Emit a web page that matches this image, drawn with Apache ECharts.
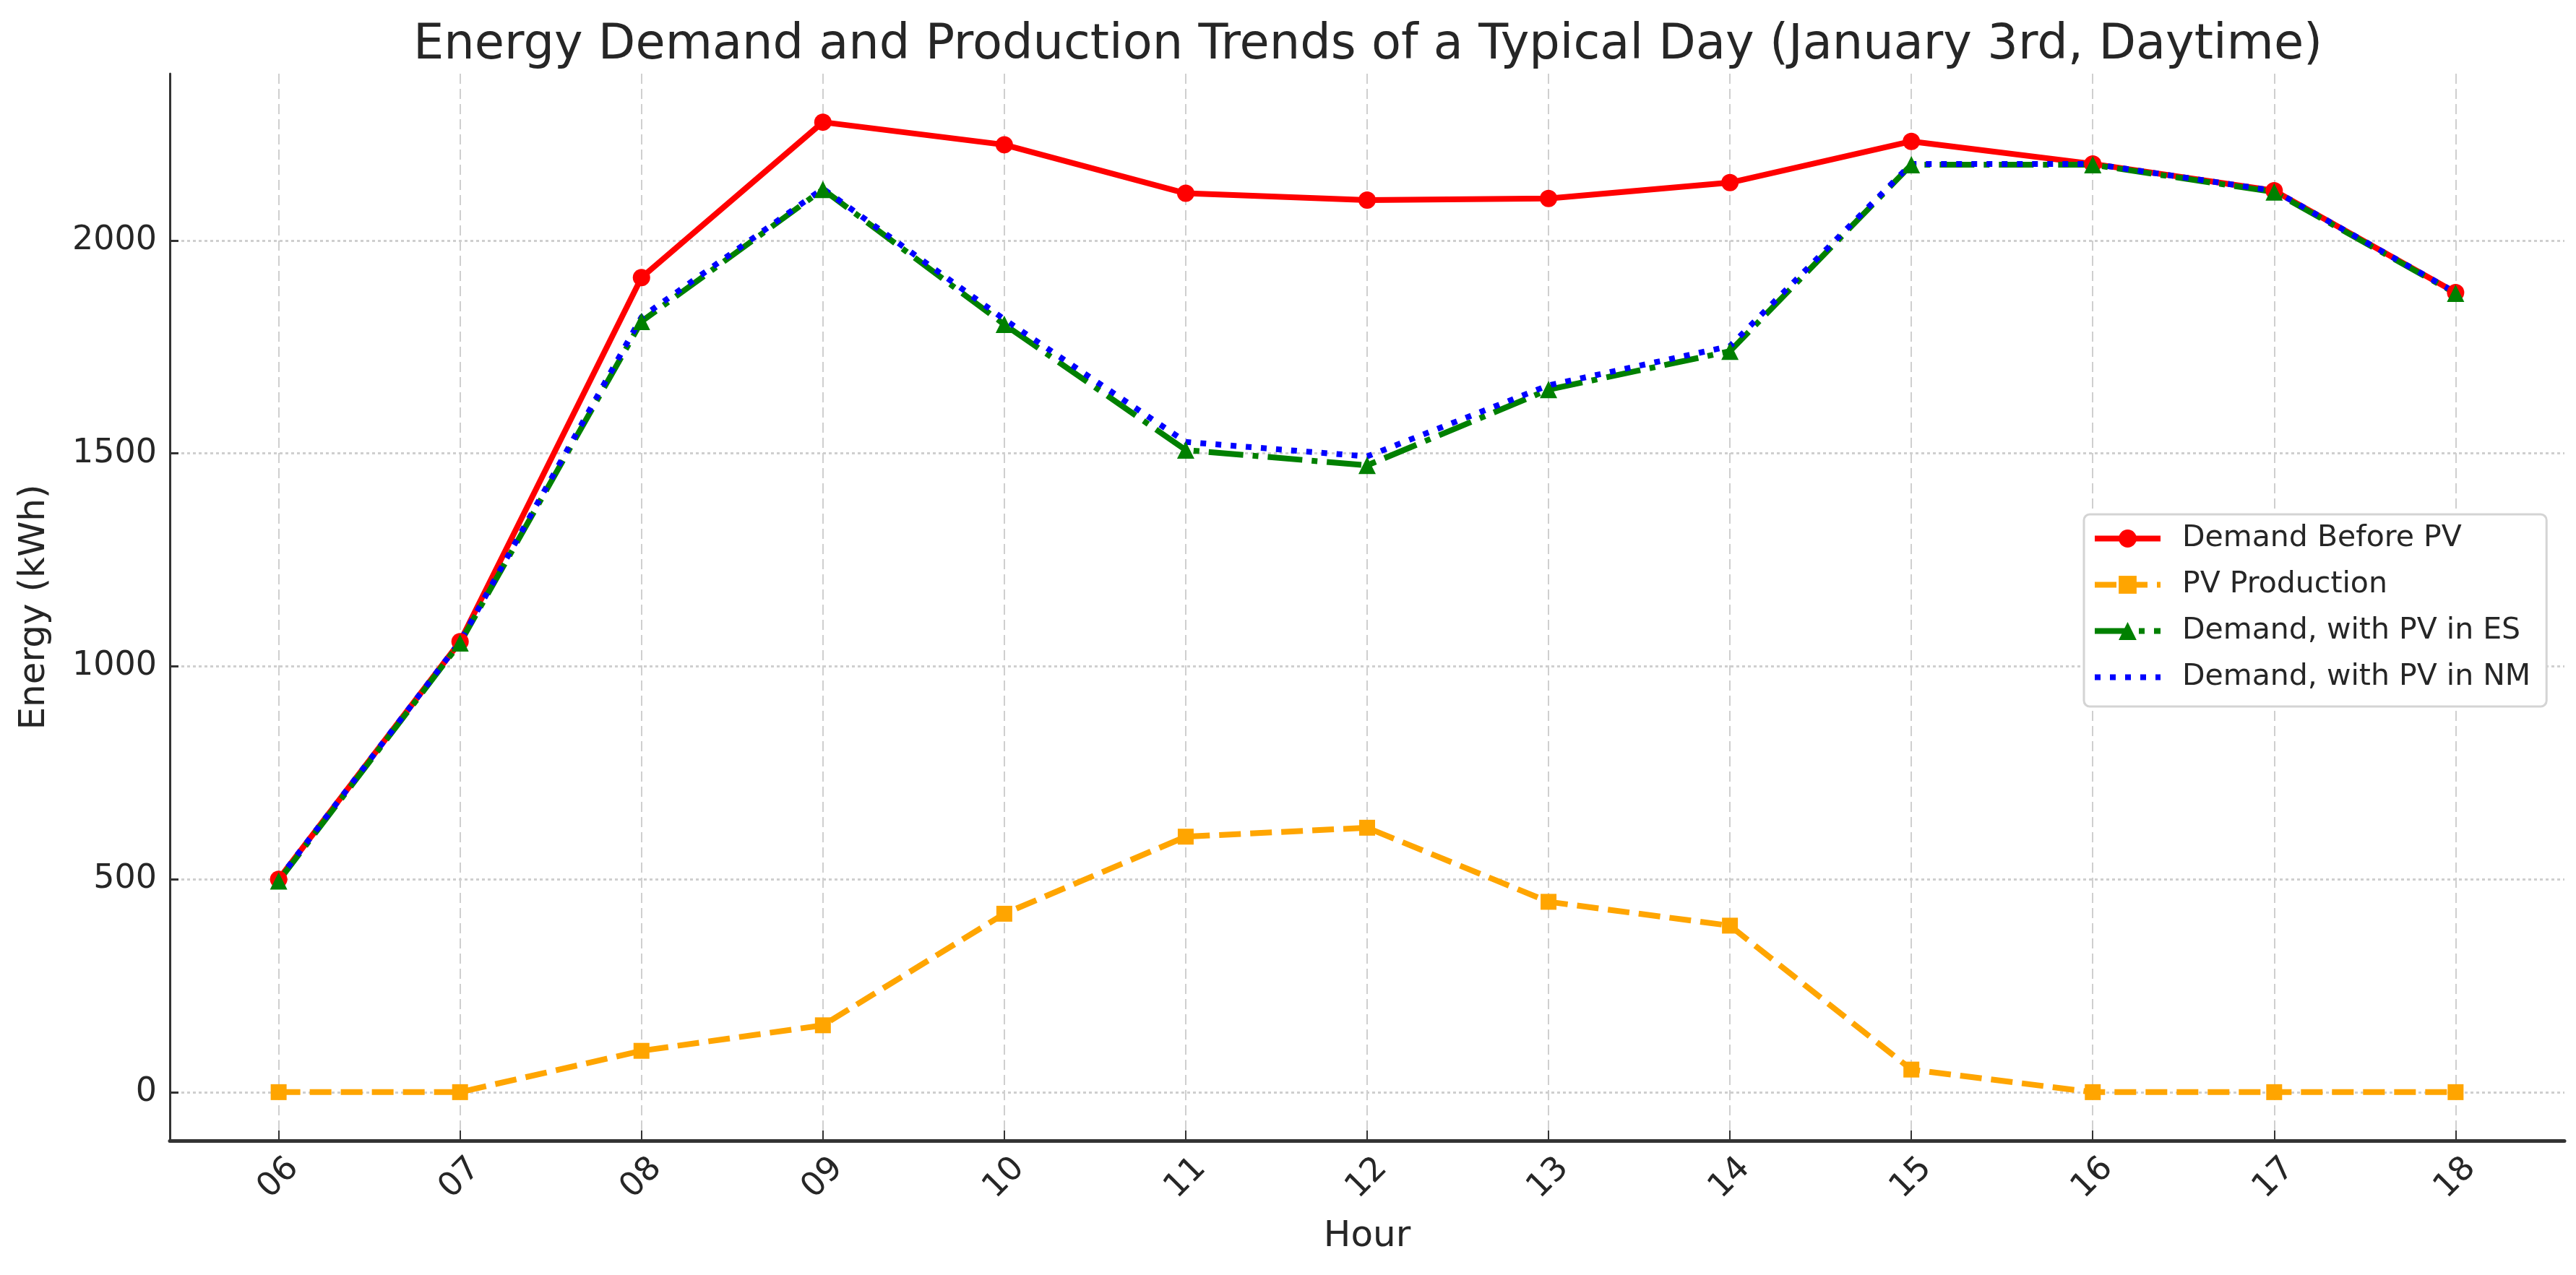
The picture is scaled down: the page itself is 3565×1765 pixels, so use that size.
<!DOCTYPE html>
<html>
<head>
<meta charset="utf-8">
<script src="https://cdn.jsdelivr.net/npm/echarts@6/dist/echarts.min.js"></script>
<style>
  html, body { margin: 0; padding: 0; background: #ffffff; }
  #chart { width: 3565px; height: 1765px; }
</style>
</head>
<body>
<div id="chart"></div>
<script>
// ---- Data ----
var hours = ['06', '07', '08', '09', '10', '11', '12', '13', '14', '15', '16', '17', '18'];
var demandBeforePV = [500, 1058, 1913, 2278, 2225, 2111, 2095, 2099, 2136, 2233, 2180, 2117, 1878];
var pvProduction   = [0, 0, 97, 157, 419, 600, 621, 447, 391, 53, 0, 0, 0];
var demandES       = [496, 1055, 1810, 2120, 1803, 1508, 1472, 1650, 1740, 2178, 2178, 2114, 1876];
var demandNM       = [500, 1058, 1820, 2122, 1815, 1527, 1493, 1660, 1752, 2180, 2180, 2117, 1878];
var yTicks = [0, 500, 1000, 1500, 2000];

var FONT = 'DejaVu Sans';
var TXT = '#262626';

function pairs(arr) { return arr.map(function (v, i) { return [i, v]; }); }
var xTickVals = hours.map(function (h, i) { return i; });

var chart = echarts.init(document.getElementById('chart'), null, { renderer: 'canvas' });

var option = {
  animation: false,
  backgroundColor: '#ffffff',
  title: {
    text: 'Energy Demand and Production Trends of a Typical Day (January 3rd, Daytime)',
    left: 572,
    top: 30,
    padding: 0,
    textStyle: { fontFamily: FONT, fontSize: 67, fontWeight: 'normal', color: TXT }
  },
  grid: { left: 235, right: 16, top: 102, bottom: 186, containLabel: false },
  legend: {
    orient: 'vertical',
    left: 2884,
    top: 712,
    selectedMode: false,
    backgroundColor: '#ffffff',
    borderColor: '#d4d4d4',
    borderWidth: 3,
    borderRadius: 8,
    padding: [13, 22, 20, 11],
    itemWidth: 91,
    itemHeight: 31,
    itemGap: 23,
    lineStyle: { width: 8 },
    textStyle: { fontFamily: FONT, fontSize: 41, color: TXT, lineHeight: 40, padding: [0, 0, 0, 25] },
    data: [
      { name: 'Demand Before PV' },
      { name: 'PV Production' },
      { name: 'Demand, with PV in ES' },
      { name: 'Demand, with PV in NM', itemStyle: { opacity: 0 } }
    ]
  },
  xAxis: {
    type: 'value',
    min: -0.6,
    max: 12.6,
    name: 'Hour',
    nameLocation: 'middle',
    nameGap: 108,
    nameTextStyle: { fontFamily: FONT, fontSize: 50, color: TXT },
    axisLine: { show: true, onZero: false, lineStyle: { color: '#333333', width: 5 } },
    axisTick: { show: true, inside: true, length: 14, customValues: xTickVals, lineStyle: { color: '#333333', width: 2 } },
    axisLabel: {
      show: true,
      customValues: xTickVals,
      rotate: 45,
      align: 'center',
      verticalAlign: 'middle',
      margin: 52,
      fontFamily: FONT,
      fontSize: 46,
      color: TXT,
      formatter: function (v) { return hours[Math.round(v)]; }
    },
    splitLine: { show: true, lineStyle: { color: '#cfcfcf', width: 2, type: [14, 7] } }
  },
  yAxis: {
    type: 'value',
    min: -113.9,
    max: 2391.9,
    name: 'Energy (kWh)',
    nameLocation: 'middle',
    nameGap: 162,
    nameRotate: 90,
    nameTextStyle: { fontFamily: FONT, fontSize: 50, color: TXT },
    axisLine: { show: true, onZero: false, lineStyle: { color: '#333333', width: 3 } },
    axisTick: { show: true, inside: true, length: 12, customValues: yTicks, lineStyle: { color: '#333333', width: 3 } },
    axisLabel: {
      show: true,
      customValues: yTicks,
      margin: 18,
      fontFamily: FONT,
      fontSize: 46,
      color: TXT,
      formatter: function (v) { return String(Math.round(v)); }
    },
    splitLine: { show: true, lineStyle: { color: '#cfcfcf', width: 3, type: [4, 4] } }
  },
  series: [
    {
      name: 'Demand Before PV',
      type: 'line',
      data: pairs(demandBeforePV),
      symbol: 'circle',
      symbolSize: 24,
      lineStyle: { color: '#ff0000', width: 8, type: 'solid' },
      itemStyle: { color: '#ff0000' }
    },
    {
      name: 'PV Production',
      type: 'line',
      data: pairs(pvProduction),
      symbol: 'rect',
      symbolSize: 22,
      lineStyle: { color: '#ffa500', width: 8, type: [30, 13] },
      itemStyle: { color: '#ffa500' }
    },
    {
      name: 'Demand, with PV in ES',
      type: 'line',
      data: pairs(demandES),
      symbol: 'triangle',
      symbolSize: 24,
      lineStyle: { color: '#008000', width: 8, type: [48, 13, 8, 13] },
      itemStyle: { color: '#008000' }
    },
    {
      name: 'Demand, with PV in NM',
      type: 'line',
      data: pairs(demandNM),
      symbol: 'none',
      lineStyle: { color: '#0000ff', width: 8, type: [8, 13] },
      itemStyle: { color: '#0000ff' }
    }
  ]
};

chart.setOption(option);
</script>
</body>
</html>
